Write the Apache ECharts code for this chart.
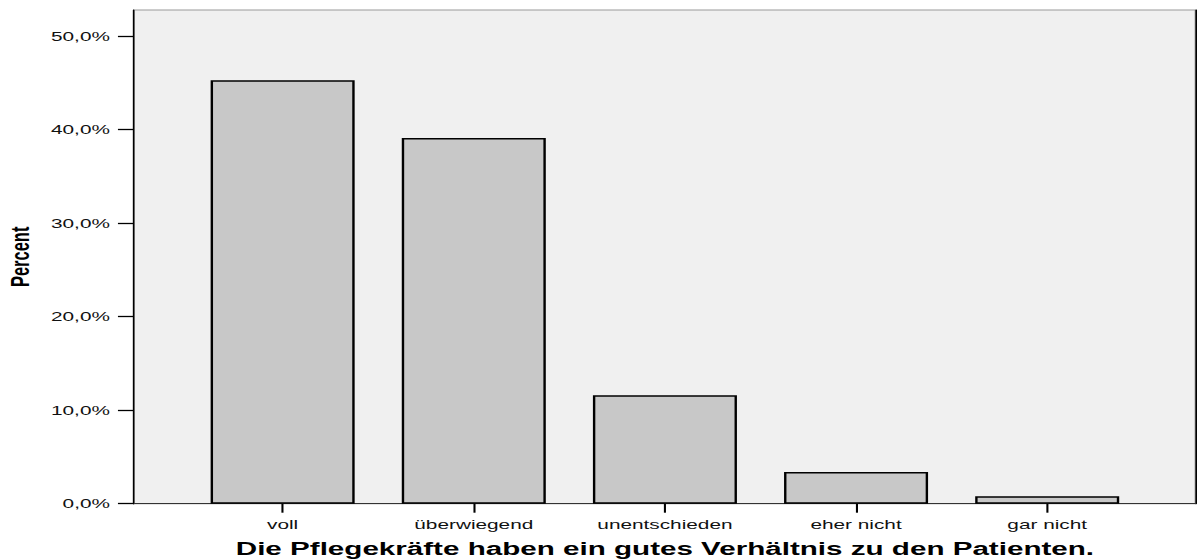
<!DOCTYPE html>
<html>
<head>
<meta charset="utf-8">
<script src="https://cdn.jsdelivr.net/npm/echarts@6/dist/echarts.min.js"></script>
<style>
  html, body { margin: 0; padding: 0; background: #fff; overflow: hidden; }
  /* the reference is a chart stretched sideways, so draw it narrow and stretch it */
  #chart { width: 748px; height: 560px; transform: scaleX(1.6003); transform-origin: 0 0; }
</style>
</head>
<body>
<div id="chart"></div>
<script>
const categories = ['voll', 'überwiegend', 'unentschieden', 'eher nicht', 'gar nicht']
const percentValues = [45.3, 39.1, 11.6, 3.4, 0.8]
const yTicks = [0, 10, 20, 30, 40, 50]
const yMax = 52.8
const xTitle = 'Die Pflegekräfte haben ein gutes Verhältnis zu den Patienten.'
const yTitle = 'Percent'

const font = 'Liberation Sans'
const myChart = echarts.init(document.getElementById('chart'), null, { renderer: 'svg' })

const options = {
  animation: false,
  grid: [
    // frame of the plot
    {
      left: 83.7, right: 1, top: 10, bottom: 56.3,
      outerBoundsMode: 'none',
      containLabel: false,
      show: true,
      backgroundColor: '#f0f0f0',
      borderColor: '#999',
      borderWidth: 1
    },
    // band where the bars sit
    { left: 116.9, right: 33.9, top: 10, bottom: 56.3, outerBoundsMode: 'none', containLabel: false }
  ],
  xAxis: [
    {
      gridIndex: 0,
      type: 'value',
      min: 0,
      max: 1,
      axisLine: { show: true, lineStyle: { color: '#333', width: 1 } },
      axisTick: { show: false },
      axisLabel: { show: false },
      splitLine: { show: false }
    },
    {
      gridIndex: 1,
      type: 'category',
      data: categories,
      axisLine: { show: false },
      axisTick: {
        show: true,
        alignWithLabel: true,
        length: 9,
        lineStyle: { color: '#000', width: 1.3 }
      },
      axisLabel: { color: '#111', fontSize: 13, fontFamily: font, margin: 14 },
      name: xTitle,
      nameLocation: 'middle',
      nameGap: 35,
      nameTextStyle: { color: '#000', fontSize: 18.5, fontWeight: 'bold', fontFamily: font }
    }
  ],
  yAxis: [
    {
      gridIndex: 0,
      type: 'value',
      min: 0,
      max: yMax,
      position: 'left',
      axisLine: { show: true, lineStyle: { color: '#000', width: 1 } },
      axisTick: { show: true, length: 10, customValues: yTicks, lineStyle: { color: '#000', width: 1.3 } },
      axisLabel: {
        customValues: yTicks,
        margin: 15,
        color: '#111',
        fontSize: 13,
        fontFamily: font,
        formatter: (v) => v.toFixed(1).replace('.', ',') + '%'
      },
      splitLine: { show: false },
      name: yTitle,
      nameLocation: 'middle',
      nameGap: 62,
      nameTextStyle: { color: '#000', fontSize: 16.5, fontWeight: 'bold', fontFamily: font }
    },
    {
      gridIndex: 0,
      type: 'value',
      min: 0,
      max: yMax,
      position: 'right',
      axisLine: { show: true, lineStyle: { color: '#000', width: 1 } },
      axisTick: { show: false },
      axisLabel: { show: false },
      splitLine: { show: false }
    },
    { gridIndex: 1, type: 'value', min: 0, max: yMax, show: false }
  ],
  series: [
    {
      type: 'bar',
      xAxisIndex: 1,
      yAxisIndex: 2,
      data: percentValues,
      barWidth: 90,
      itemStyle: { color: '#c8c8c8', borderColor: '#000', borderWidth: 1.5 }
    }
  ]
}
myChart.setOption(options)
</script>
</body>
</html>
